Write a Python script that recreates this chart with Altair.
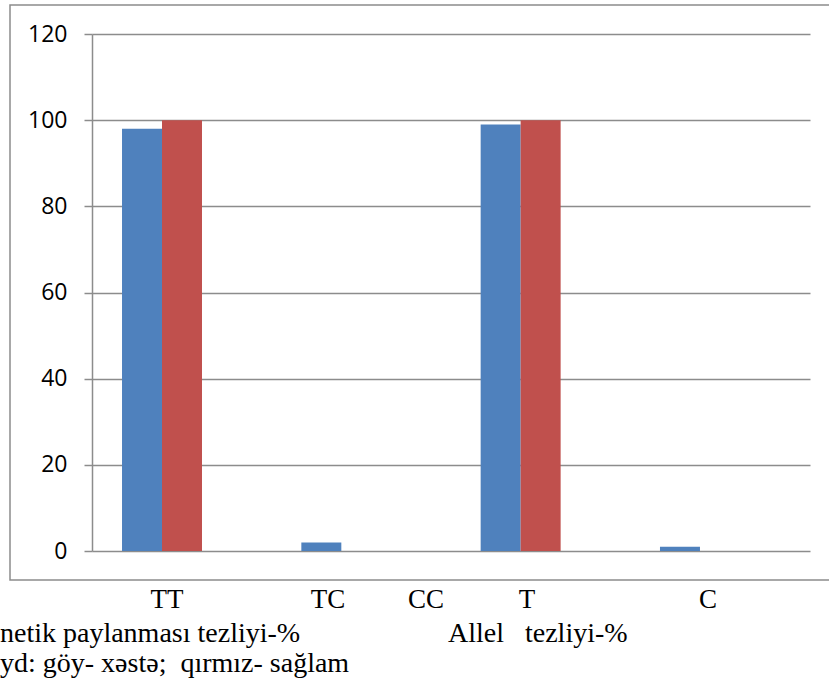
import altair as alt
import pandas as pd

# Bar groups and their frequencies (%)
groups = ["TT", "TC", "T", "C"]
series = ["xəstə", "sağlam"]
xeste = [98, 2, 99, 1]
saglam = [100, 0, 100, 0]
y_ticks = [0, 20, 40, 60, 80, 100, 120]

# Category captions under the plot, with their horizontal centres (px from the y axis)
captions = ["TT", "TC", "CC", "T", "C"]
caption_x = [75, 236, 334, 435, 616]

# Caption lines below the chart: text, left x, baseline y (px relative to plot origin)
notes = [
    ("netik paylanması tezliyi-%", -92, 608),
    ("Allel\u00a0\u00a0\u00a0tezliyi-%", 356, 608),
    ("yd: göy- xəstə;\u00a0\u00a0qırmız- sağlam", -92, 638),
]

SERIF = "Liberation Serif, Times New Roman, serif"
GRID = "#8c8c8c"

df = pd.DataFrame({
    "qrup": groups * 2,
    "seriya": [series[0]] * len(groups) + [series[1]] * len(groups),
    "tezlik": xeste + saglam,
})

bars = alt.Chart(df).mark_bar().encode(
    x=alt.X("qrup:N", sort=groups, axis=None,
            scale=alt.Scale(paddingInner=0.554, paddingOuter=0.279, align=0.3)),
    xOffset=alt.XOffset("seriya:N", sort=series,
                        scale=alt.Scale(paddingInner=0, paddingOuter=0)),
    y=alt.Y("tezlik:Q", title=None,
            scale=alt.Scale(domain=[0, 120], nice=False),
            axis=alt.Axis(values=y_ticks, grid=True, gridColor=GRID, gridWidth=1.5,
                          domainColor=GRID, domainWidth=1.5, tickColor=GRID,
                          tickWidth=1.5, tickSize=8, labelFont="Open Sans",
                          labelFontSize=23, labelColor="#000000", labelPadding=17)),
    color=alt.Color("seriya:N", sort=series, legend=None,
                    scale=alt.Scale(domain=series, range=["#4F81BD", "#C0504D"])),
)

cap_df = pd.DataFrame({"t": captions, "px": caption_x})
cap = alt.Chart(cap_df).mark_text(
    font=SERIF, fontSize=27, align="center", baseline="alphabetic",
    color="#000000",
).encode(
    x=alt.X("px:Q", scale=None, axis=None),
    y=alt.value(574),
    text="t:N",
)

frame = alt.Chart(alt.Data(values=[{}])).mark_rect(
    fillOpacity=0, stroke=GRID, strokeWidth=1.5,
).encode(
    x=alt.value(-82), x2=alt.value(760), y=alt.value(-29), y2=alt.value(546),
)

note_layers = []
for txt, nx, ny in notes:
    note_layers.append(
        alt.Chart(alt.Data(values=[{}])).mark_text(
            font=SERIF, fontSize=28, align="left",
            baseline="alphabetic", color="#000000",
        ).encode(x=alt.value(nx), y=alt.value(ny), text=alt.value(txt))
    )

chart = alt.layer(frame, bars, cap, *note_layers).resolve_scale(
    x="independent"
).properties(
    width=718, height=517, autosize="none",
    padding={"left": 92, "top": 34, "right": 19, "bottom": 137},
    background="#ffffff",
).configure_view(stroke=None)

chart.save("out.html", embed_options={"renderer": "svg", "actions": False})
